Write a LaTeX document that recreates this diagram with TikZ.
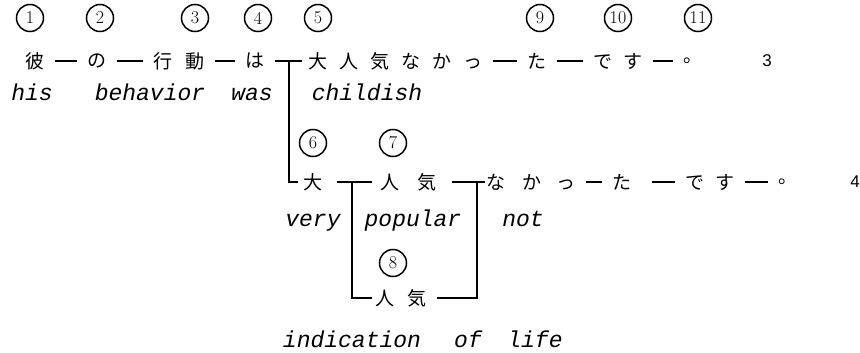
\documentclass[tikz,border=0pt]{standalone}
\usepackage{fontspec}
\usepackage{tikz}

\newfontfamily\jpfont{Noto Sans CJK JP}
\newfontfamily\glossfont{Liberation Mono}
\newfontfamily\tagfont{Liberation Sans}

\begin{document}
\begin{tikzpicture}[x=1pt,y=-1pt,
        num/.style={draw,circle,line width=1.5pt,minimum size=27pt,inner sep=0pt,font=\fontsize{18}{18}\selectfont},
        kana/.style={inner sep=0pt,font=\jpfont\fontsize{19}{19}\selectfont},
        gloss/.style={inner sep=0pt,anchor=base,font=\glossfont\itshape\fontsize{23}{23}\selectfont},
        link/.style={line width=2.2pt,shorten <=10pt,shorten >=10pt},
        tree/.style={line width=1.7pt}]
        \useasboundingbox (0,0) rectangle (860,353);

        % Draw circled numbers
        \node[num] (c1) at (30,18) {1};
        \node[num] (c2) at (100,18) {2};
        \node[num] (c3) at (195,18) {3};
        \node[num] (c4) at (258,18) {4};
        \node[num] (c5) at (318,18) {5};
        \node[num] (c9) at (540,18) {9};
        \node[num] (c10) at (618,18) {10};
        \node[num] (c11) at (698,18) {11};
        \node[num] (c6) at (313,143) {6};
        \node[num] (c7) at (393,143) {7};
        \node[num] (c8) at (393,263) {8};

        % First sentence
        \node[kana] (kare) at (35,61) {彼};
        \node[kana] (no) at (97,61) {の};
        \node[kana] (koudou) at (179,61) {行\hspace{13pt}動};
        \node[kana] (wa) at (255,61) {は};
        \node[kana] (otona1) at (395.5,61) {大\hspace{12pt}人\hspace{12pt}気\hspace{12pt}な\hspace{12pt}か\hspace{12pt}っ};
        \node[kana] (ta1) at (537,61) {た};
        \node[kana] (desu1) at (618,61) {で\hspace{11pt}す};
        \node[kana] (maru1) at (693,61) {。};
        \node[font=\tagfont\fontsize{17}{17}\selectfont] (n3) at (767,61) {3};
        \draw[link] (kare) -- (no);
        \draw[link] (no) -- (koudou);
        \draw[link] (koudou) -- (wa);
        \draw[tree,shorten <=10pt,shorten >=6pt] (wa) -- (otona1);
        \draw[link] (otona1) -- (ta1);
        \draw[link] (ta1) -- (desu1);
        \draw[link] (desu1) -- (maru1);

        % Second sentence
        \node[kana] (dai2) at (313,182) {大};
        \node[kana] (ninki2) at (408.5,182) {人\hspace{18pt}気};
        \node[kana] (nakka2) at (531,182) {な\hspace{17pt}か\hspace{15pt}っ};
        \node[kana] (ta2) at (622,182) {た};
        \node[kana] (desu2) at (710,182) {で\hspace{11pt}す};
        \node[kana] (maru2) at (788,182) {。};
        \node[font=\tagfont\fontsize{17}{17}\selectfont] (n4) at (855,182) {4};
        \node[kana] (ninki3) at (401,298) {人\hspace{13pt}気};
        \draw[tree,shorten <=14pt,shorten >=8pt] (dai2) -- (ninki2);
        \draw[tree,shorten <=15pt,shorten >=1pt] (ninki2) -- (nakka2);
        \draw[link] (nakka2) -- (ta2);
        \draw[link,shorten <=20pt] (ta2) -- (desu2);
        \draw[link] (desu2) -- (maru2);

        % Branches
        \coordinate (fork1) at (289,61);
        \coordinate (fork2) at (352,182);
        \coordinate (fork3) at (477,182);
        \draw[tree,shorten >=5pt] (fork1) |- (dai2);
        \draw[tree,shorten >=3pt] (fork2) |- (ninki3);
        \draw[tree,shorten >=10pt] (fork3) |- (ninki3);

        % Glosses
        \node[gloss] (his) at (32,101) {his};
        \node[gloss] (behavior) at (150,101) {behavior};
        \node[gloss] (was) at (252,101) {was};
        \node[gloss] (childish) at (367,101) {childish};
        \node[gloss] (very) at (313,226) {very};
        \node[gloss] (popular) at (413,226) {popular};
        \node[gloss] (not) at (523,226) {not};
        \node[gloss] (indication) at (352,347) {indication};
        \node[gloss] (of) at (468,347) {of};
        \node[gloss] (life) at (535,347) {life};
    \end{tikzpicture}
\end{document}
